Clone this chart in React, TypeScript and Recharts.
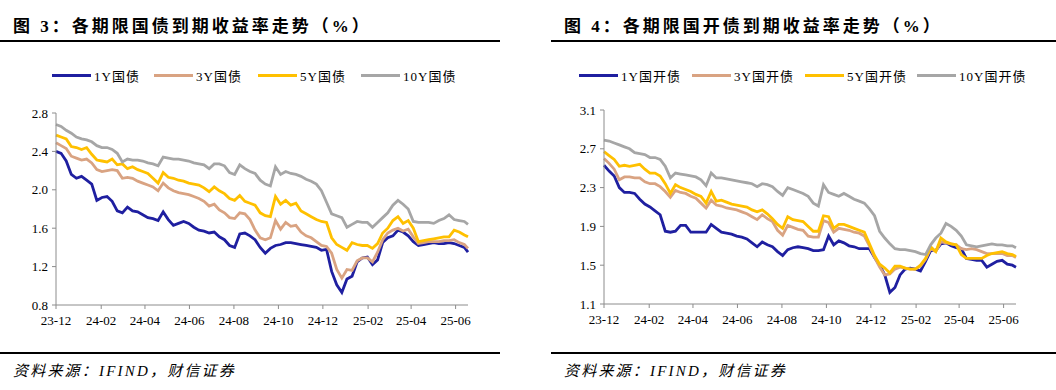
import React from 'react';
import { LineChart, Line, XAxis, YAxis } from 'recharts';

// weekly sampling dates (shared by both panels)
const dates = [
  '2023-12-01', '2023-12-08', '2023-12-15', '2023-12-22', '2023-12-29', '2024-01-05', '2024-01-12', '2024-01-19', '2024-01-26', '2024-02-02',
  '2024-02-09', '2024-02-16', '2024-02-23', '2024-03-01', '2024-03-08', '2024-03-15', '2024-03-22', '2024-03-29', '2024-04-05', '2024-04-12',
  '2024-04-19', '2024-04-26', '2024-05-03', '2024-05-10', '2024-05-17', '2024-05-24', '2024-05-31', '2024-06-07', '2024-06-14', '2024-06-21',
  '2024-06-28', '2024-07-05', '2024-07-12', '2024-07-19', '2024-07-26', '2024-08-02', '2024-08-09', '2024-08-16', '2024-08-23', '2024-08-30',
  '2024-09-06', '2024-09-13', '2024-09-20', '2024-09-27', '2024-10-04', '2024-10-11', '2024-10-18', '2024-10-25', '2024-11-01', '2024-11-08',
  '2024-11-15', '2024-11-22', '2024-11-29', '2024-12-06', '2024-12-13', '2024-12-20', '2024-12-27', '2025-01-03', '2025-01-10', '2025-01-17',
  '2025-01-24', '2025-01-31', '2025-02-07', '2025-02-14', '2025-02-21', '2025-02-28', '2025-03-07', '2025-03-14', '2025-03-21', '2025-03-28',
  '2025-04-04', '2025-04-11', '2025-04-18', '2025-04-25', '2025-05-02', '2025-05-09', '2025-05-16', '2025-05-23', '2025-05-30', '2025-06-06',
  '2025-06-13', '2025-06-18',
];

const xTickDates = [
  '2023-12-01', '2024-02-01', '2024-04-01', '2024-06-01', '2024-08-01',
  '2024-10-01', '2024-12-01', '2025-02-01', '2025-04-01', '2025-06-01',
];

// 国债
const cgb1y = [
  2.40, 2.38, 2.30, 2.16, 2.12, 2.14, 2.10, 2.06, 1.89, 1.92,
  1.93, 1.88, 1.78, 1.76, 1.82, 1.78, 1.77, 1.74, 1.71, 1.70,
  1.68, 1.77, 1.69, 1.63, 1.65, 1.67, 1.65, 1.61, 1.58, 1.57,
  1.55, 1.56, 1.51, 1.48, 1.42, 1.40, 1.54, 1.55, 1.52, 1.48,
  1.40, 1.34, 1.39, 1.42, 1.43, 1.45, 1.45, 1.44, 1.43, 1.42,
  1.41, 1.40, 1.37, 1.38, 1.15, 1.01, 0.93, 1.07, 1.10, 1.25,
  1.29, 1.30, 1.22, 1.27, 1.45, 1.50, 1.52, 1.58, 1.56, 1.52,
  1.46, 1.42, 1.43, 1.44, 1.45, 1.44, 1.44, 1.45, 1.44, 1.42,
  1.40, 1.35,
];
const cgb3y = [
  2.49, 2.46, 2.43, 2.35, 2.33, 2.31, 2.32, 2.28, 2.21, 2.19,
  2.20, 2.21, 2.20, 2.12, 2.13, 2.12, 2.09, 2.07, 2.05, 2.03,
  1.99, 2.07, 2.02, 1.99, 1.97, 1.96, 1.95, 1.93, 1.91, 1.88,
  1.83, 1.85, 1.79, 1.76, 1.71, 1.70, 1.76, 1.75, 1.69, 1.58,
  1.50, 1.48, 1.50, 1.68, 1.59, 1.66, 1.62, 1.63, 1.56, 1.52,
  1.50, 1.46, 1.42, 1.41, 1.34, 1.17, 1.08, 1.17, 1.16, 1.26,
  1.29, 1.29, 1.25, 1.35, 1.48, 1.55, 1.58, 1.60, 1.57, 1.59,
  1.51, 1.44, 1.45, 1.46, 1.46, 1.46, 1.47, 1.47, 1.48, 1.45,
  1.43, 1.39,
];
const cgb5y = [
  2.57, 2.55, 2.53, 2.45, 2.44, 2.42, 2.44, 2.37, 2.31, 2.30,
  2.29, 2.32, 2.26, 2.27, 2.22, 2.24, 2.21, 2.19, 2.17, 2.12,
  2.07, 2.18, 2.13, 2.12, 2.10, 2.09, 2.07, 2.06, 2.05, 2.02,
  1.98, 2.03, 1.99, 1.96, 1.91, 1.89, 1.94, 1.88, 1.86, 1.84,
  1.76, 1.73, 1.72, 1.93, 1.85, 1.89, 1.84, 1.86, 1.78, 1.75,
  1.72, 1.69, 1.67, 1.66, 1.50, 1.43, 1.40, 1.37, 1.45, 1.43,
  1.42, 1.42, 1.39, 1.44, 1.55, 1.60, 1.68, 1.72, 1.65, 1.68,
  1.60, 1.46, 1.47, 1.48, 1.49, 1.50, 1.51, 1.51, 1.58, 1.56,
  1.53, 1.51,
];
const cgb10y = [
  2.68, 2.66, 2.62, 2.59, 2.55, 2.53, 2.52, 2.50, 2.46, 2.44,
  2.44, 2.42, 2.38, 2.29, 2.32, 2.31, 2.31, 2.30, 2.28, 2.27,
  2.25, 2.34, 2.33, 2.32, 2.32, 2.31, 2.30, 2.28, 2.27, 2.26,
  2.22, 2.27, 2.27, 2.25, 2.18, 2.16, 2.26, 2.22, 2.19, 2.17,
  2.10, 2.06, 2.04, 2.24, 2.16, 2.19, 2.17, 2.16, 2.14, 2.11,
  2.09, 2.06, 1.99, 1.87, 1.75, 1.73, 1.71, 1.61, 1.64, 1.67,
  1.66, 1.66, 1.61, 1.66, 1.71, 1.76, 1.84, 1.89, 1.85, 1.80,
  1.67, 1.66, 1.66, 1.66, 1.65, 1.68, 1.70, 1.74, 1.69, 1.68,
  1.67, 1.64,
];

// 国开债
const cdb1y = [
  2.53, 2.47, 2.42, 2.30, 2.25, 2.25, 2.24, 2.18, 2.13, 2.10,
  2.06, 2.02, 1.85, 1.84, 1.85, 1.91, 1.91, 1.84, 1.84, 1.84,
  1.84, 1.92, 1.88, 1.84, 1.83, 1.82, 1.80, 1.79, 1.77, 1.73,
  1.69, 1.74, 1.71, 1.69, 1.64, 1.60, 1.66, 1.68, 1.69, 1.68,
  1.67, 1.65, 1.65, 1.66, 1.80, 1.71, 1.75, 1.73, 1.70, 1.69,
  1.67, 1.67, 1.67, 1.58, 1.50, 1.40, 1.22, 1.27, 1.40, 1.46,
  1.47, 1.46, 1.44, 1.54, 1.65, 1.65, 1.72, 1.73, 1.70, 1.68,
  1.67, 1.57, 1.56, 1.55, 1.55, 1.48, 1.51, 1.54, 1.55, 1.51,
  1.50, 1.48,
];
const cdb3y = [
  2.60, 2.55, 2.49, 2.38, 2.41, 2.41, 2.40, 2.40, 2.36, 2.34,
  2.34, 2.31, 2.26, 2.20, 2.27, 2.25, 2.24, 2.21, 2.19, 2.14,
  2.09, 2.17, 2.12, 2.11, 2.09, 2.08, 2.07, 2.05, 2.03, 2.00,
  1.97, 2.02, 1.98, 1.95, 1.86, 1.81, 1.91, 1.89, 1.87, 1.86,
  1.80, 1.79, 1.79, 1.96, 1.94, 1.84, 1.88, 1.87, 1.86, 1.84,
  1.83, 1.80, 1.70, 1.58, 1.48, 1.40, 1.41, 1.46, 1.48, 1.47,
  1.46, 1.46, 1.49, 1.56, 1.67, 1.64, 1.74, 1.73, 1.72, 1.71,
  1.67, 1.66, 1.67, 1.66, 1.64, 1.62, 1.62, 1.62, 1.62, 1.60,
  1.60, 1.58,
];
const cdb5y = [
  2.67, 2.63, 2.59, 2.52, 2.53, 2.52, 2.53, 2.54, 2.49, 2.45,
  2.45, 2.42, 2.34, 2.24, 2.33, 2.30, 2.28, 2.26, 2.23, 2.21,
  2.14, 2.26, 2.16, 2.17, 2.15, 2.13, 2.12, 2.11, 2.10, 2.07,
  2.05, 2.07, 2.03, 1.98, 1.92, 1.88, 2.00, 1.97, 1.96, 1.95,
  1.90, 1.85, 1.85, 2.01, 2.00, 1.88, 1.92, 1.92, 1.90, 1.88,
  1.86, 1.84, 1.72, 1.60, 1.51, 1.47, 1.42, 1.49, 1.49, 1.47,
  1.46, 1.46, 1.50, 1.57, 1.69, 1.64, 1.78, 1.74, 1.72, 1.71,
  1.61, 1.57, 1.57, 1.57, 1.57, 1.60, 1.62, 1.63, 1.64, 1.62,
  1.61, 1.59,
];
const cdb10y = [
  2.79, 2.78, 2.76, 2.74, 2.72, 2.70, 2.66, 2.65, 2.64, 2.61,
  2.61, 2.59, 2.52, 2.40, 2.45, 2.44, 2.43, 2.42, 2.41, 2.38,
  2.32, 2.45, 2.40, 2.40, 2.39, 2.38, 2.37, 2.36, 2.35, 2.34,
  2.31, 2.34, 2.33, 2.31, 2.26, 2.22, 2.30, 2.28, 2.26, 2.24,
  2.21, 2.14, 2.11, 2.33, 2.25, 2.23, 2.21, 2.24, 2.21, 2.18,
  2.16, 2.14, 2.08, 2.01, 1.85, 1.78, 1.72, 1.67, 1.66, 1.66,
  1.65, 1.64, 1.62, 1.61, 1.71, 1.78, 1.83, 1.93, 1.90, 1.86,
  1.80, 1.71, 1.70, 1.69, 1.70, 1.71, 1.72, 1.71, 1.71, 1.70,
  1.70, 1.68,
];

const cgbNames = ['1Y国债', '3Y国债', '5Y国债', '10Y国债'];
const cdbNames = ['1Y国开债', '3Y国开债', '5Y国开债', '10Y国开债'];
const cgbTicks = [0.8, 1.2, 1.6, 2.0, 2.4, 2.8];
const cdbTicks = [1.1, 1.5, 1.9, 2.3, 2.7, 3.1];

const COLORS = ['#1F1FA0', '#D9A382', '#FFC000', '#A6A6A6'];
const SERIF = '"Liberation Serif", "Noto Sans CJK SC", serif';
const AXIS = '#8C8C8C';

const toTime = (s: string) => Date.UTC(+s.slice(0, 4), +s.slice(5, 7) - 1, +s.slice(8, 10));
const xTicks = xTickDates.map(toTime);
const xDomain = [toTime(dates[0]), toTime(dates[dates.length - 1])];
const fmtMonth = (t: number) => {
  const d = new Date(t);
  return `${String(d.getUTCFullYear()).slice(2)}-${String(d.getUTCMonth() + 1).padStart(2, '0')}`;
};

const buildRows = (series: number[][]) =>
  dates.map((d, i) => ({ t: toTime(d), s0: series[0][i], s1: series[1][i], s2: series[2][i], s3: series[3][i] }));

const cgbRows = buildRows([cgb1y, cgb3y, cgb5y, cgb10y]);
const cdbRows = buildRows([cdb1y, cdb3y, cdb5y, cdb10y]);

function Legend({ names, xs }: { names: string[]; xs: number[] }) {
  return (
    <>
      {names.map((n, i) => (
        <div
          key={n}
          style={{ position: 'absolute', left: xs[i], top: 66, height: 18, display: 'flex', alignItems: 'center' }}
        >
          <div style={{ width: 39, height: 3, background: COLORS[i], marginRight: 3 }} />
          <span style={{ fontFamily: SERIF, fontSize: 13, letterSpacing: 1, color: '#000' }}>{n}</span>
        </div>
      ))}
    </>
  );
}

function YieldChart({ rows, ticks, top, marginTop }: { rows: any[]; ticks: number[]; top: number; marginTop: number }) {
  const tickStyle = { fill: '#000', fontSize: 13, fontFamily: SERIF };
  return (
    <LineChart
      width={500}
      height={240}
      data={rows}
      margin={{ top: marginTop, right: 32, left: 16, bottom: top }}
    >
      <XAxis
        dataKey="t"
        type="number"
        domain={xDomain}
        ticks={xTicks}
        interval={0}
        tickFormatter={fmtMonth}
        height={30}
        tickSize={4}
        tickMargin={7}
        stroke={AXIS}
        tick={tickStyle}
      />
      <YAxis
        type="number"
        domain={[ticks[0], ticks[ticks.length - 1]]}
        ticks={ticks}
        interval={0}
        tickFormatter={(v: number) => v.toFixed(1)}
        width={40}
        tickSize={4}
        tickMargin={4}
        stroke={AXIS}
        tick={tickStyle}
      />
      {[0, 1, 2, 3].map((i) => (
        <Line
          key={i}
          type="linear"
          dataKey={`s${i}`}
          stroke={COLORS[i]}
          strokeWidth={2.8}
          dot={false}
          isAnimationActive={false}
        />
      ))}
    </LineChart>
  );
}

const titleStyle: React.CSSProperties = {
  position: 'absolute',
  top: 17,
  fontFamily: SERIF,
  fontWeight: 'bold',
  fontSize: 17,
  lineHeight: '20px',
  letterSpacing: 3,
  color: '#000',
  whiteSpace: 'nowrap',
};

const sourceStyle: React.CSSProperties = {
  position: 'absolute',
  top: 362,
  fontFamily: SERIF,
  fontStyle: 'italic',
  fontSize: 15,
  lineHeight: '18px',
  letterSpacing: 2.2,
  color: '#000',
  whiteSpace: 'nowrap',
};

export default function App() {
  return (
    <div style={{ position: 'absolute', left: 0, top: 0, width: 1056, height: 390, background: '#fff', overflow: 'hidden' }}>
      {/* 图3 */}
      <div style={{ ...titleStyle, left: 13 }}>图 3：各期限国债到期收益率走势（%）</div>
      <div style={{ position: 'absolute', left: 0, top: 40, width: 500, height: 2, background: '#000' }} />
      <Legend names={cgbNames} xs={[52, 154, 258, 361]} />
      <div style={{ position: 'absolute', left: 0, top: 100 }}>
        <YieldChart rows={cgbRows} ticks={cgbTicks} top={5} marginTop={13} />
      </div>
      <div style={{ position: 'absolute', left: 0, top: 352, width: 500, height: 2, background: '#000' }} />
      <div style={{ ...sourceStyle, left: 13 }}>资料来源：IFIND，财信证券</div>

      {/* 图4 */}
      <div style={{ ...titleStyle, left: 564 }}>图 4：各期限国开债到期收益率走势（%）</div>
      <div style={{ position: 'absolute', left: 551, top: 40, width: 505, height: 2, background: '#000' }} />
      <Legend names={cdbNames} xs={[579, 692, 805, 917]} />
      <div style={{ position: 'absolute', left: 548, top: 100 }}>
        <YieldChart rows={cdbRows} ticks={cdbTicks} top={6} marginTop={10} />
      </div>
      <div style={{ position: 'absolute', left: 551, top: 352, width: 505, height: 2, background: '#000' }} />
      <div style={{ ...sourceStyle, left: 564 }}>资料来源：IFIND，财信证券</div>
    </div>
  );
}
